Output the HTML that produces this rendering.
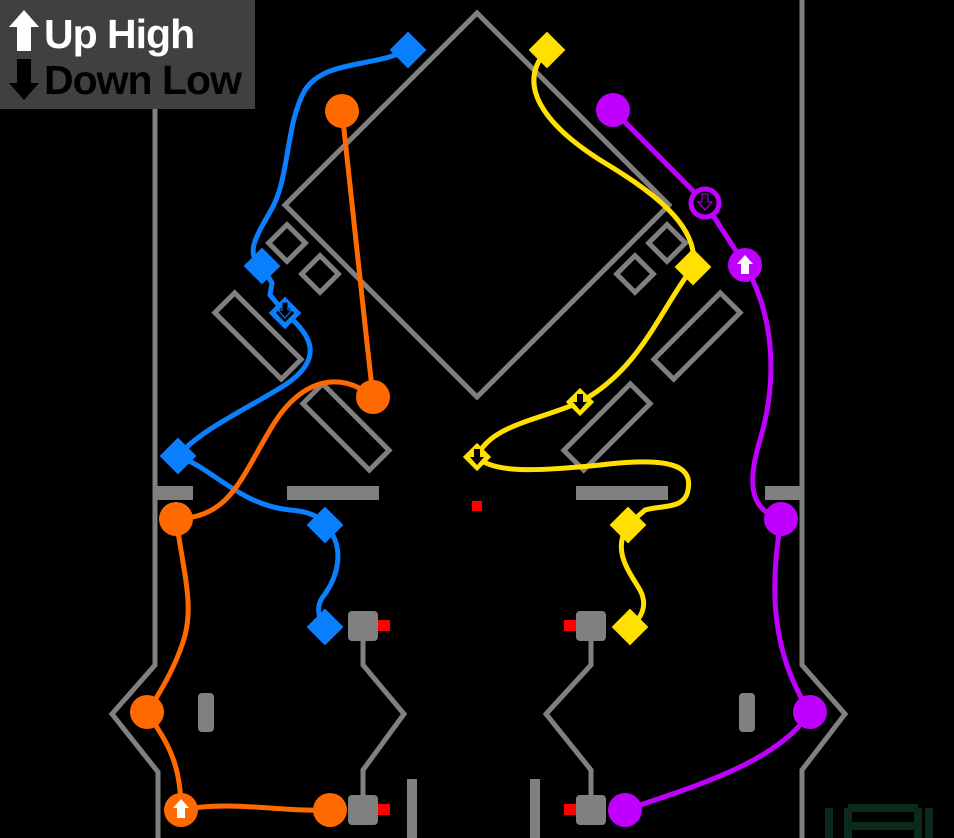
<!DOCTYPE html>
<html><head><meta charset="utf-8"><style>
html,body{margin:0;padding:0;background:#000;width:954px;height:838px;overflow:hidden}
svg{display:block}
</style></head><body>
<svg width="954" height="838" viewBox="0 0 954 838" xmlns="http://www.w3.org/2000/svg">
<rect width="954" height="838" fill="#000"/>
<g fill="none" stroke="#808080" stroke-width="5">
<polyline points="155,105 155,665 112,714 158,772 158,838"/>
<polyline points="802,0 802,665 845,714 802,770 802,838"/>
<polygon points="477,13 669,205 477,397 285,205"/>
<rect x="-13" y="-13" width="26" height="26" transform="translate(287,243) rotate(45)"/>
<rect x="-13" y="-13" width="26" height="26" transform="translate(320,274) rotate(45)"/>
<rect x="-13" y="-13" width="26" height="26" transform="translate(635,274) rotate(45)"/>
<rect x="-13" y="-13" width="26" height="26" transform="translate(667,243) rotate(45)"/>
<rect x="-47" y="-14" width="94" height="28" transform="translate(258,336) rotate(45)"/>
<rect x="-47" y="-14" width="94" height="28" transform="translate(346,427) rotate(45)"/>
<rect x="-47" y="-14" width="94" height="28" transform="translate(697,336) rotate(-45)"/>
<rect x="-47" y="-14" width="94" height="28" transform="translate(607,427) rotate(-45)"/>
<polyline points="363,640 363,665 404,714 363,770 363,800"/>
<polyline points="591,640 591,665 546,714 591,770 591,800"/>
</g>
<g fill="#808080">
<rect x="155" y="486" width="38" height="14"/>
<rect x="287" y="486" width="92" height="14"/>
<rect x="576" y="486" width="92" height="14"/>
<rect x="765" y="486" width="37" height="14"/>
<rect x="348" y="611" width="30" height="30" rx="4"/>
<rect x="348" y="795" width="30" height="30" rx="4"/>
<rect x="576" y="611" width="30" height="30" rx="4"/>
<rect x="576" y="795" width="30" height="30" rx="4"/>
<rect x="198" y="693" width="16" height="39" rx="4"/>
<rect x="739" y="693" width="16" height="39" rx="4"/>
<rect x="407" y="779" width="10" height="59"/>
<rect x="530" y="779" width="10" height="59"/>
</g>
<g fill="#ff0000">
<rect x="378" y="620" width="12" height="11"/>
<rect x="378" y="804" width="12" height="11"/>
<rect x="564" y="620" width="12" height="11"/>
<rect x="564" y="804" width="12" height="11"/>
<rect x="472" y="501" width="10" height="10"/>
</g>
<g fill="none" stroke="#0a2a1a" stroke-width="8">
<path d="M829,838 L829,808 M929,838 L929,808 M848,808 L918,808 M848,826 L918,826 M848,808 L848,838 M918,808 L918,838"/>
</g>
<g fill="none" stroke-width="5" stroke-linecap="round">
<path stroke="#0a80ff" d="M408,50 C370,68 325,60 305,90 C285,125 290,180 270,212 C255,238 245,255 262,266 L272,283 L270,295 L285,313 C305,330 330,355 285,385 C245,410 200,430 178,456 C215,470 240,505 290,510 C320,512 325,525 325,525 C345,545 340,575 322,598 C315,610 320,620 325,627"/>
<path stroke="#ff6a00" d="M342,111 C352,200 362,300 373,397 C340,370 300,378 270,430 C240,480 230,517 176,519 C185,580 195,610 182,645 C170,680 147,712 147,712 C165,740 181,760 181,810 C230,800 280,812 330,810"/>
<path stroke="#ffe000" d="M547,50 C515,85 545,125 600,160 C650,190 700,225 693,267 C660,310 640,370 580,402 C540,420 490,425 477,457 C495,475 545,470 600,465 C680,455 692,470 688,490 C685,510 660,505 645,510 L628,525 C612,550 628,570 640,590 C648,605 642,618 630,627"/>
<path stroke="#c000ff" d="M613,110 L705,203 L745,265 C782,330 772,400 760,440 C748,480 748,510 781,519 C775,560 762,640 810,712 C780,760 700,785 625,810"/>
</g>
<g fill="#0a80ff">
<rect x="-13" y="-13" width="26" height="26" transform="translate(408,50) rotate(45)"/>
<rect x="-13" y="-13" width="26" height="26" transform="translate(262,266) rotate(45)"/>
<rect x="-13" y="-13" width="26" height="26" transform="translate(178,456) rotate(45)"/>
<rect x="-13" y="-13" width="26" height="26" transform="translate(325,525) rotate(45)"/>
<rect x="-13" y="-13" width="26" height="26" transform="translate(325,627) rotate(45)"/>
</g>
<rect x="-9" y="-9" width="18" height="18" transform="translate(285,313) rotate(45)" fill="#000" stroke="#0a80ff" stroke-width="5"/>
<path d="M282,302 h6 v8 h4 l-7,8 l-7,-8 h4z" fill="#000" stroke="#0a80ff" stroke-width="1"/>
<g fill="#ffe000">
<rect x="-13" y="-13" width="26" height="26" transform="translate(547,50) rotate(45)"/>
<rect x="-13" y="-13" width="26" height="26" transform="translate(693,267) rotate(45)"/>
<rect x="-13" y="-13" width="26" height="26" transform="translate(628,525) rotate(45)"/>
<rect x="-13" y="-13" width="26" height="26" transform="translate(630,627) rotate(45)"/>
</g>
<rect x="-10" y="-10" width="20" height="20" transform="translate(580,402) rotate(45)" fill="#ffe000"/>
<rect x="-10" y="-10" width="20" height="20" transform="translate(477,457) rotate(45)" fill="#ffe000"/>
<path d="M577,394 h6 v8 h4 l-7,8 l-7,-8 h4z" fill="#000"/>
<path d="M474,449 h6 v8 h4 l-7,8 l-7,-8 h4z" fill="#000"/>
<g fill="#ff6a00">
<circle cx="342" cy="111" r="17"/>
<circle cx="373" cy="397" r="17"/>
<circle cx="176" cy="519" r="17"/>
<circle cx="147" cy="712" r="17"/>
<circle cx="181" cy="810" r="17"/>
<circle cx="330" cy="810" r="17"/>
</g>
<path d="M181,799 l8,9 h-4 v10 h-8 v-10 h-4z" fill="#fff"/>
<g fill="#c000ff">
<circle cx="613" cy="110" r="17"/>
<circle cx="745" cy="265" r="17"/>
<circle cx="781" cy="519" r="17"/>
<circle cx="810" cy="712" r="17"/>
<circle cx="625" cy="810" r="17"/>
</g>
<circle cx="705" cy="203" r="14" fill="#000" stroke="#c000ff" stroke-width="5"/>
<path d="M702,194 h6 v8 h4 l-7,8 l-7,-8 h4z" fill="#000" stroke="#c000ff" stroke-width="1"/>
<path d="M745,255 l8,9 h-4 v10 h-8 v-10 h-4z" fill="#fff"/>
<rect x="0" y="0" width="255" height="109" fill="#404040"/>
<path d="M24,10 l15,17 h-8 v24 h-14 v-24 h-8z" fill="#fff"/>
<path d="M24,100 l15,-17 h-8 v-24 h-14 v24 h-8z" fill="#000"/>
<text x="44" y="48" font-family="Liberation Sans, sans-serif" font-weight="bold" font-size="41" fill="#fff" letter-spacing="-1">Up High</text>
<text x="44" y="94" font-family="Liberation Sans, sans-serif" font-weight="bold" font-size="41" fill="#000" letter-spacing="-1">Down Low</text>
</svg>
</body></html>
